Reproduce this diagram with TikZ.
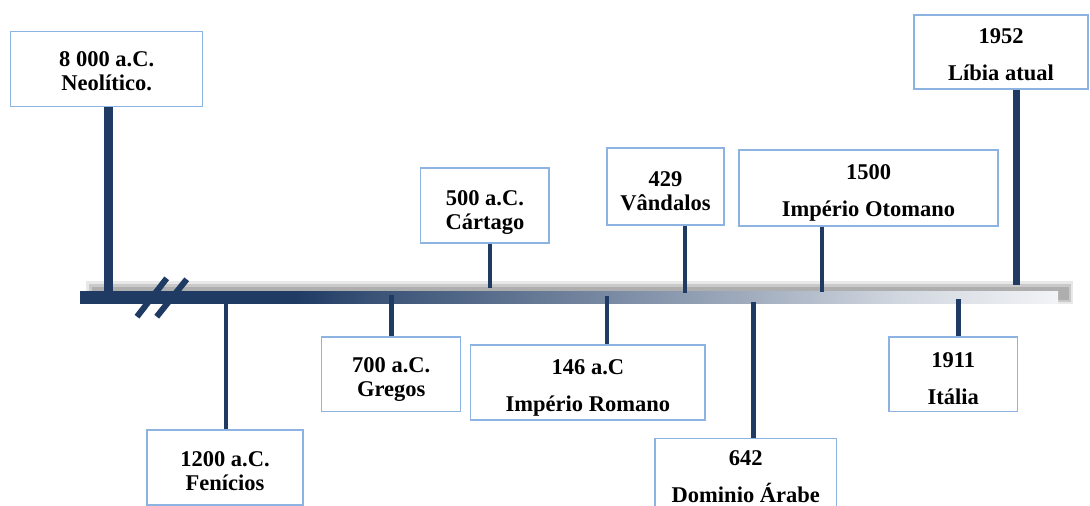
\documentclass[tikz,border=0pt]{standalone}
\usepackage{fontspec}
\setmainfont{Liberation Serif}
\definecolor{navy}{HTML}{1F3B64}
\definecolor{boxblue}{HTML}{8DB3E2}
\pgfdeclarehorizontalshading{barshade}{100bp}{color(0bp)=(navy); color(25bp)=(navy); color(36bp)=(navy); color(40bp)=(navy!88!white); color(52bp)=(navy!60!white); color(60bp)=(navy!40!white); color(67bp)=(navy!20!white); color(75bp)=(navy!6!white); color(100bp)=(navy!6!white)}
\tikzset{
  evbox/.style={draw=boxblue, line width=1.3pt, fill=white, inner sep=0pt},
  evtext/.style={align=center, inner sep=0pt, text=black,
    font=\bfseries\fontsize{22.5}{24}\selectfont},
  stem/.style={draw=navy, line width=4.5pt},
  thickstem/.style={draw=navy, line width=9pt},
  breakmark/.style={draw=navy, line width=6pt}
}
\begin{document}
\begin{tikzpicture}[x=1pt, y=-1pt]
\useasboundingbox (0,0) rectangle (1090,506);

% shadow of the time bar
\fill[gray, opacity=0.18] (86,281) rectangle (1073,304);
\fill[gray, opacity=0.3] (89,284) rectangle (1071,302);
\fill[gray!85, opacity=0.5] (92,287) rectangle (1069,300);

% time bar
\shade[shading=barshade] (80,291) rectangle (1058,303);

% coordinates on the bar
\coordinate (b1) at (108.5,293);
\coordinate (b2) at (226,297);
\coordinate (b3) at (391.5,295);
\coordinate (b4) at (490,288);
\coordinate (b5) at (607,296);
\coordinate (b6) at (685,293);
\coordinate (b7) at (753.5,302);
\coordinate (b8) at (822,292);
\coordinate (b9) at (958.5,299);
\coordinate (b10) at (1016,285);

% event boxes
\node[evbox, minimum width=192pt, minimum height=75pt,
  label={[evtext, yshift=-2pt]center:8 000 a.C.\\Neolítico.}] (n1) at (106.7,69.2) {};
\node[evbox, minimum width=156pt, minimum height=75pt,
  label={[evtext, yshift=-3.5pt]center:1200 a.C.\\Fenícios}] (n2) at (225,467.5) {};
\node[evbox, minimum width=139pt, minimum height=74.7pt,
  label={[evtext, yshift=-5pt]center:700 a.C.\\Gregos}] (n3) at (391.2,374.3) {};
\node[evbox, minimum width=128.3pt, minimum height=75pt,
  label={[evtext, yshift=-6.5pt]center:500 a.C.\\Cártago}] (n4) at (484.9,205.5) {};
\node[evbox, minimum width=234.3pt, minimum height=75pt,
  label={[evtext, yshift=-5.5pt]center:146 a.C\\[13pt]Império Romano}] (n5) at (587.9,382.5) {};
\node[evbox, minimum width=117pt, minimum height=77pt,
  label={[evtext, yshift=-4.5pt]center:429\\Vândalos}] (n6) at (665.5,186.5) {};
\node[evbox, minimum width=181.7pt, minimum height=75pt, anchor=north,
  label={[evtext, yshift=-0.5pt]center:642\\[13pt]Dominio Árabe}] (n7) at (745.8,438) {};
\node[evbox, minimum width=259pt, minimum height=76pt,
  label={[evtext, yshift=-5pt]center:1500\\[13pt]Império Otomano}] (n8) at (868.5,188) {};
\node[evbox, minimum width=128.7pt, minimum height=74.7pt,
  label={[evtext, yshift=-4pt]center:1911\\[13pt]Itália}] (n9) at (953.3,374.3) {};
\node[evbox, minimum width=174pt, minimum height=74pt,
  label={[evtext, yshift=-3pt]center:1952\\[13pt]Líbia atual}] (n10) at (1001,52) {};

% stems
\draw[thickstem] (n1.south -| b1) -- (b1);
\draw[stem] (b2) -- (n2.north -| b2);
\draw[stem] (b3) -- (n3.north -| b3);
\draw[stem] (n4.south -| b4) -- (b4);
\draw[stem] (b5) -- (n5.north -| b5);
\draw[stem] (n6.south -| b6) -- (b6);
\draw[stem] (b7) -- (n7.north -| b7);
\draw[stem] (n8.south -| b8) -- (b8);
\draw[stem] (b9) -- (n9.north -| b9);
\draw[draw=navy, line width=7pt] (n10.south -| b10) -- (b10);

% break marks
\draw[breakmark] (137,316.7) -- (166.7,278.3);
\draw[breakmark] (156.7,316.7) -- (186.7,279.3);
\end{tikzpicture}
\end{document}
